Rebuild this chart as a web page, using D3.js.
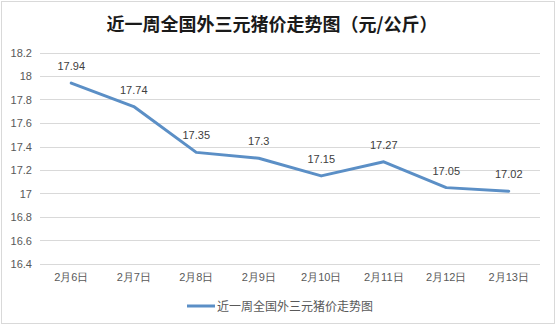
<!DOCTYPE html>
<html>
<head>
<meta charset="utf-8">
<script src="https://cdn.jsdelivr.net/npm/d3@7"></script>
<style>
  html, body { margin: 0; padding: 0; background: #fff; }
  svg { display: block; font-family: "Noto Sans CJK SC", "Liberation Sans", sans-serif; }
</style>
</head>
<body>
<svg id="chart" width="557" height="326"></svg>
<script>
const categories = ["2月6日", "2月7日", "2月8日", "2月9日", "2月10日", "2月11日", "2月12日", "2月13日"];
const prices = [17.94, 17.74, 17.35, 17.3, 17.15, 17.27, 17.05, 17.02];
const yTicks = [16.4, 16.6, 16.8, 17, 17.2, 17.4, 17.6, 17.8, 18, 18.2];
const seriesName = "近一周全国外三元猪价走势图";
const title = "近一周全国外三元猪价走势图（元/公斤）";

const svg = d3.select("#chart");
const W = 557, H = 326;
const lineColor = "#5b8fc6";

// outer frame
svg.append("rect").attr("x", 1.5).attr("y", 1.5).attr("width", W - 4).attr("height", H - 4)
  .attr("fill", "#fff").attr("stroke", "#d9d9d9").attr("stroke-width", 1);

const x = d3.scaleBand().domain(categories).range([40, 540]);
const y = d3.scaleLinear().domain([16.4, 18.2]).range([264, 52.5]);

// horizontal grid
svg.append("g").selectAll("line").data(yTicks).join("line")
  .attr("x1", 40).attr("x2", 540)
  .attr("y1", d => Math.round(y(d)) + 0.5).attr("y2", d => Math.round(y(d)) + 0.5)
  .attr("stroke", "#d9d9d9").attr("stroke-width", 1);

// y axis labels
const yAxis = d3.axisLeft(y).tickValues(yTicks).tickSize(0).tickPadding(8).tickFormat(d3.format("~g"));
const gy = svg.append("g").attr("transform", "translate(40,0)").call(yAxis);
gy.select(".domain").remove();
gy.selectAll("text").attr("fill", "#595959").style("font-size", "11px")
  .style("font-family", "'Liberation Sans', Arial, sans-serif");

// x axis labels
const xAxis = d3.axisBottom(x).tickSize(0).tickPadding(9);
const gx = svg.append("g").attr("transform", "translate(0,264)").call(xAxis);
gx.select(".domain").remove();
gx.selectAll("text").attr("fill", "#595959").style("font-size", "11px");

// line
const line = d3.line().x((d, i) => x(categories[i]) + x.bandwidth() / 2).y(d => y(d));
svg.append("path").datum(prices).attr("d", line)
  .attr("fill", "none").attr("stroke", lineColor).attr("stroke-width", 3)
  .attr("stroke-linejoin", "round").attr("stroke-linecap", "round");

// value labels
svg.append("g").selectAll("text").data(prices).join("text")
  .attr("x", (d, i) => x(categories[i]) + x.bandwidth() / 2)
  .attr("y", d => y(d) - 13)
  .attr("text-anchor", "middle")
  .attr("fill", "#404040")
  .style("font-size", "11px")
  .style("font-family", "'Liberation Sans', Arial, sans-serif")
  .text(d => d3.format("~g")(d));

// title
svg.append("text").attr("x", 272).attr("y", 31).attr("text-anchor", "middle")
  .attr("fill", "#1a1a1a").style("font-size", "18px").style("font-weight", "bold")
  .text(title);

// legend
const lg = svg.append("g");
lg.append("line").attr("x1", 187).attr("x2", 215).attr("y1", 306).attr("y2", 306)
  .attr("stroke", lineColor).attr("stroke-width", 3);
lg.append("text").attr("x", 217).attr("y", 310.5).attr("fill", "#595959")
  .style("font-size", "12px").text(seriesName);
</script>
</body>
</html>
